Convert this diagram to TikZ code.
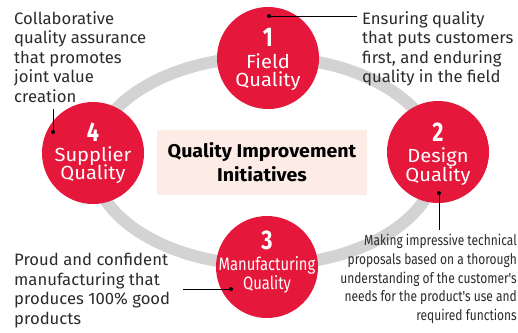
\documentclass[tikz,border=0pt]{standalone}
\usepackage{fontspec}
\setmainfont{Fira Sans}
\newfontfamily\widefont[FakeStretch=1.06]{Fira Sans}
\newfontfamily\notefont[FakeStretch=1.01]{Fira Sans}
\newfontfamily\condfont[FakeStretch=0.82]{Fira Sans}
\newfontfamily\numfont[FakeStretch=0.80]{Fira Sans}
\definecolor{qred}{HTML}{E5173A}
\definecolor{qgray}{HTML}{D3D3D3}
\definecolor{qbox}{HTML}{FDEBE5}
\definecolor{qtext}{HTML}{2B2B2B}
\begin{document}
\begin{tikzpicture}[x=1pt,y=-1pt,
  qcircle/.style={circle,fill=qred,minimum size=102pt,inner sep=0pt},
  qnum/.style={anchor=base,text=white,inner sep=0pt,font=\numfont\bfseries\fontsize{27}{27}\selectfont},
  qlab/.style={anchor=base,text=white,inner sep=0pt,font=\widefont\fontsize{19}{19}\selectfont},
  qlabc/.style={anchor=base,text=white,inner sep=0pt,font=\condfont\fontsize{18}{18}\selectfont},
  note/.style={inner sep=0pt,text=qtext,align=left,font=\notefont\fontsize{16.5}{19.6}\selectfont},
  cnote/.style={inner sep=0pt,text=qtext,align=right,font=\condfont\fontsize{14.6}{18.8}\selectfont},
  dot/.style={circle,fill=black,inner sep=0pt,minimum size=4pt},
  lead/.style={draw=black,line width=0.8pt}]
\useasboundingbox (0,0) rectangle (518,332);
\fill[white] (0,0) rectangle (518,332);
% ring
\draw[qgray,line width=12pt] (265,161) ellipse [x radius=172, y radius=104];
% centre box
\node[fill=qbox,minimum width=210pt,minimum height=65pt,inner sep=0pt,
  align=center,text=black,font=\widefont\bfseries\fontsize{18.5}{24}\selectfont] (box) at (262,162.5)
  {Quality Improvement\\Initiatives};
% circles
\node[qcircle] (c1) at (268,58) {};
\node[qcircle] (c2) at (438,152) {};
\node[qcircle] (c3) at (267,267) {};
\node[qcircle] (c4) at (93,153) {};
% circle texts
\node[qnum] (n1) at (268,46) {1};
\node[qlab] (l1a) at (268,68) {Field};
\node[qlab] (l1b) at (268,86) {Quality};
\node[qnum] (n2) at (438,141) {2};
\node[qlab] (l2a) at (438,162) {Design};
\node[qlab] (l2b) at (438,181) {Quality};
\node[qnum] (n3) at (267,249) {3};
\node[qlabc] (l3a) at (267,270) {Manufacturing};
\node[qlabc] (l3b) at (267,289) {Quality};
\node[qnum] (n4) at (93,141) {4};
\node[qlab] (l4a) at (93,161) {Supplier};
\node[qlab] (l4b) at (93,179) {Quality};
% notes
\node[note,anchor=north west] (t4) at (14,11)
  {Collaborative\\quality assurance\\that promotes\\joint value\\creation};
\node[note,anchor=north west] (t1) at (362,11)
  {Ensuring quality\\that puts customers\\first, and enduring\\quality in the field};
\node[note,anchor=north west] (t3) at (14,253)
  {Proud and confident\\manufacturing that\\produces 100\% good\\products};
\node[cnote,anchor=north east] (t2) at (517,234)
  {Making impressive technical\\proposals based on a thorough\\understanding of the customer's\\needs for the product's use and\\required functions};
% leaders
\node[dot] (d1) at (269,16) {};
\coordinate (e1) at (357,16);
\draw[lead] (d1.center) -- (e1);
\node[dot] (d4) at (53,132) {};
\coordinate (e4) at (53,109);
\draw[lead] (d4.center) -- (e4);
\node[dot] (d2) at (439,193) {};
\coordinate (e2) at (439,230);
\draw[lead] (d2.center) -- (e2);
\node[dot] (d3) at (231,289) {};
\coordinate (e3) at (183,289);
\draw[lead] (d3.center) -- (e3);
\end{tikzpicture}
\end{document}
